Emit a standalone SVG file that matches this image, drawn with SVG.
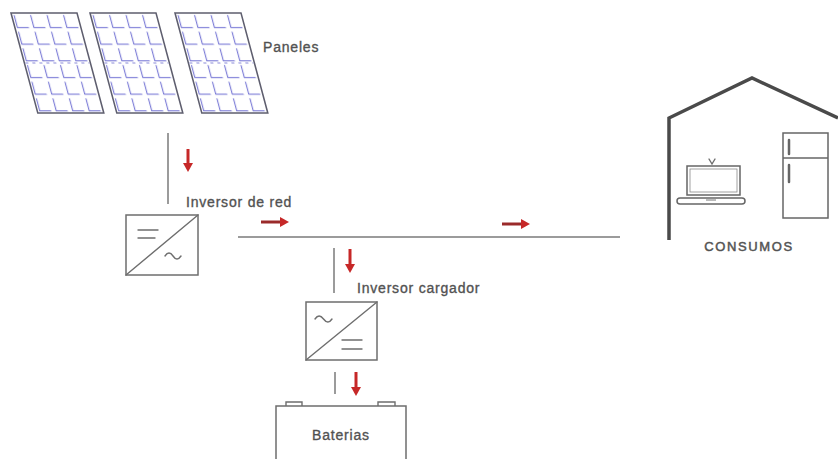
<svg xmlns="http://www.w3.org/2000/svg" width="838" height="459" viewBox="0 0 838 459">
<style>
  .lbl { font-family: "Liberation Sans", Arial, sans-serif; font-size: 14px; fill: #4d4d4d; stroke: #5a5a5a; stroke-width: 0.35px; letter-spacing: 0.8px; }
  .conn { stroke: #7a7a7a; stroke-width: 1.5; fill: none; }
  .box { stroke: #6e6e6e; stroke-width: 1.5; fill: #ffffff; }
  .sym { stroke: #6e6e6e; stroke-width: 1.4; fill: none; stroke-linecap: round; }
  .panel { stroke: #5e5e6e; stroke-width: 1.6; }
  .mid { stroke: #8a8ad8; stroke-width: 1.2; stroke-dasharray: 3 4; }
  .flow { stroke: #c62828; stroke-width: 3; fill: none; }
  .flowd { stroke: #9a2a2a; stroke-width: 3; fill: none; }
  .house { stroke: #4a4a4a; stroke-width: 3.5; fill: none; stroke-linejoin: miter; }
  .app { stroke: #666666; stroke-width: 1.5; fill: #ffffff; }
</style>
<defs>
  <pattern id="cells" patternUnits="userSpaceOnUse" width="16.5" height="16.667">
    <rect width="16.5" height="16.667" fill="#ffffff"/>
    <path d="M2.5 2 V14.5 H14" stroke="#8080d8" stroke-width="1.2" fill="none"/>
  </pattern>
  <marker id="headR" markerUnits="userSpaceOnUse" markerWidth="10" markerHeight="10" refX="2" refY="5" orient="auto">
    <path d="M0 0 L9 5 L0 10 Z" fill="#c62828"/>
  </marker>
</defs>

<g id="paneles">
  <g transform="translate(11,13) skewX(15)">
    <rect width="66" height="100" fill="url(#cells)" class="panel"/>
    <line x1="1" y1="50" x2="65" y2="50" class="mid"/>
  </g>
  <g transform="translate(90,13) skewX(15)">
    <rect width="66" height="100" fill="url(#cells)" class="panel"/>
    <line x1="1" y1="50" x2="65" y2="50" class="mid"/>
  </g>
  <g transform="translate(175,13) skewX(15)">
    <rect width="66" height="100" fill="url(#cells)" class="panel"/>
    <line x1="1" y1="50" x2="65" y2="50" class="mid"/>
  </g>
  <text x="263" y="52" class="lbl">Paneles</text>
</g>

<g id="connectors">
  <line x1="168" y1="133" x2="168" y2="204" class="conn"/>
  <line x1="238" y1="237" x2="620" y2="237" class="conn"/>
  <line x1="334" y1="248" x2="334" y2="293" class="conn"/>
  <line x1="335" y1="372" x2="335" y2="394" class="conn"/>
</g>

<g id="flechas">
  <line x1="188" y1="149" x2="188" y2="165" class="flow" marker-end="url(#headR)"/>
  <line x1="261" y1="222" x2="282" y2="222" class="flowd" marker-end="url(#headR)"/>
  <line x1="502" y1="224" x2="523" y2="224" class="flowd" marker-end="url(#headR)"/>
  <line x1="350" y1="249" x2="350" y2="266" class="flow" marker-end="url(#headR)"/>
  <line x1="356" y1="372" x2="356" y2="389" class="flow" marker-end="url(#headR)"/>
</g>

<g id="inversor-red">
  <rect x="126" y="215" width="72" height="60" class="box"/>
  <line x1="126" y1="275" x2="198" y2="215" class="sym"/>
  <line x1="138" y1="230" x2="158" y2="230" class="sym"/>
  <line x1="138" y1="238" x2="155" y2="238" class="sym"/>
  <path d="M165 256 q4 -6 8 0 t8 0" class="sym"/>
  <text x="186" y="207" class="lbl">Inversor de red</text>
</g>

<g id="inversor-cargador">
  <rect x="306" y="302" width="71" height="58" class="box"/>
  <line x1="306" y1="360" x2="377" y2="302" class="sym"/>
  <path d="M315 319 q4 -6 8.5 0 t8.5 0" class="sym"/>
  <line x1="342" y1="340" x2="362" y2="340" class="sym"/>
  <line x1="342" y1="349" x2="362" y2="349" class="sym"/>
  <text x="357" y="293" class="lbl">Inversor cargador</text>
</g>

<g id="baterias">
  <path d="M286 406 V402 H302 V406 M378 406 V402 H395 V406" class="sym"/>
  <line x1="290" y1="410" x2="296" y2="410" class="sym"/>
  <line x1="384" y1="410" x2="390" y2="410" class="sym"/>
  <line x1="387" y1="407" x2="387" y2="413" class="sym"/>
  <path d="M276 462 V406 H406 V462" class="box"/>
  <text x="341" y="440" class="lbl" text-anchor="middle">Baterias</text>
</g>

<g id="consumos">
  <path d="M669 240 V118 L752 78 L838 118" class="house"/>
  <rect x="687" y="166" width="53" height="29" class="app"/>
  <rect x="690" y="169" width="47" height="23" fill="none" stroke="#8a8a8a" stroke-width="0.8"/>
  <path d="M709 159 L712 164 L715 159" class="sym"/>
  <rect x="677" y="198" width="68" height="6" rx="3" class="app"/>
  <line x1="706" y1="200" x2="716" y2="200" stroke="#777" stroke-width="1"/>
  <rect x="783" y="133" width="45" height="85" class="app"/>
  <line x1="783" y1="158" x2="828" y2="158" class="app"/>
  <line x1="789" y1="140" x2="789" y2="154" stroke="#666" stroke-width="2.5" stroke-linecap="round"/>
  <line x1="789" y1="165" x2="789" y2="182" stroke="#666" stroke-width="2.5" stroke-linecap="round"/>
  <text x="749" y="251" class="lbl" text-anchor="middle" style="font-size:13px;letter-spacing:1.6px;stroke-width:0.5px">CONSUMOS</text>
</g>
</svg>
